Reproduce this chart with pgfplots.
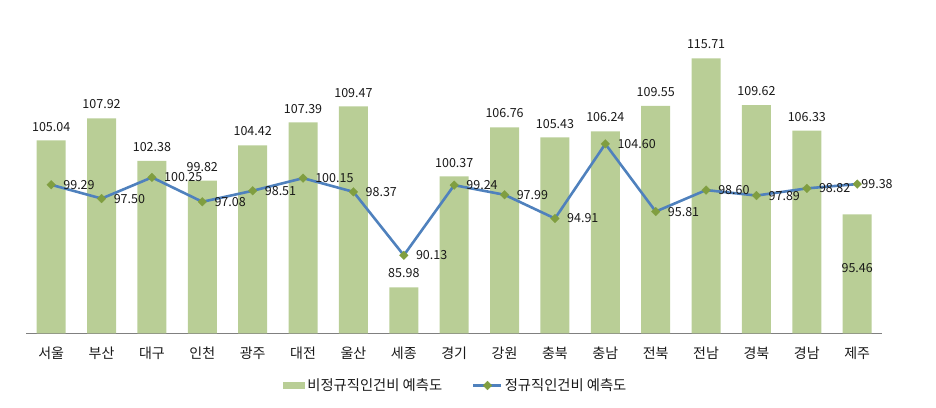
\documentclass[border=0pt]{standalone}
\usepackage{fontspec}
\setmainfont{Noto Sans CJK KR}
\usepackage{pgfplots}
\pgfplotsset{compat=1.18}
\definecolor{barG}{RGB}{185,206,150}
\definecolor{lineB}{RGB}{79,129,189}
\definecolor{markG}{RGB}{128,158,64}
\definecolor{txt}{RGB}{25,25,25}
\pgfplotstableread{
x bar line
0 105.04 99.29
1 107.92 97.50
2 102.38 100.25
3 99.82 97.08
4 104.42 98.51
5 107.39 100.15
6 109.47 98.37
7 85.98 90.13
8 100.37 99.24
9 106.76 97.99
10 105.43 94.91
11 106.24 104.60
12 109.55 95.81
13 115.71 98.60
14 109.62 97.89
15 106.33 98.82
16 95.46 99.38
}\data
\pgfplotstableread{
x bar line
0 105.04 99.29
1 107.92 97.50
2 102.38 100.25
3 99.82 97.08
4 104.42 98.51
5 107.39 100.15
6 109.47 98.37
7 85.98 90.13
8 100.37 99.24
9 106.76 97.99
10 105.43 94.91
11 106.24 104.60
12 109.55 95.81
13 115.71 98.60
14 109.62 97.89
15 106.33 98.82
}\lab
\begin{document}
\begin{tikzpicture}
\useasboundingbox (-26pt,-73.7pt) rectangle (910pt,333.3pt);
\begin{axis}[
  at={(0pt,0pt)}, anchor=south west,
  scale only axis, width=856.4pt, height=308pt,
  xmin=-0.5, xmax=16.5, ymin=80, ymax=120,
  clip=false,
  axis x line*=bottom, axis y line=none,
  x axis line style={draw=black!50, line width=0.9pt, -},
  xtick={0,...,16},
  xticklabels={서울,부산,대구,인천,광주,대전,울산,세종,경기,강원,충북,충남,전북,전남,경북,경남,제주},
  major tick length=0pt,
  xticklabel style={font=\fontsize{14}{14}\selectfont, text=txt, yshift=-10pt},
  /pgf/number format/assume math mode=true,
  legend style={at={(0.502,-0.1695)}, anchor=center, draw=none, fill=none,
    legend columns=2, font=\fontsize{14.3}{15}\selectfont, text=txt,
    /tikz/every even column/.append style={column sep=28pt},
    nodes={inner sep=2pt}},
]
\addplot[fill=barG, draw=none, ybar, bar width=0.576, bar shift=0pt,
  legend image code/.code={\fill[barG] (0pt,-3.5pt) rectangle (22pt,3.5pt);}]
  table[x=x, y=bar] {\data};
\addlegendentry{비정규직인건비 예측도}
\addplot[draw=none, mark=none, forget plot,
  nodes near coords={\pgfmathprintnumber[fixed,fixed zerofill,precision=2]{\pgfplotspointmeta}},
  every node near coord/.append style={font=\fontsize{12.5}{13}\selectfont, text=txt, anchor=south, inner sep=0pt, yshift=9pt}]
  table[x=x, y=bar] {\lab};
\addplot[lineB, line width=2.6pt, mark=square*, mark size=3.1pt,
  mark options={rotate=45, fill=markG, draw=markG, line width=0.2pt},
  legend image code/.code={\draw[mark repeat=2,mark phase=2] plot coordinates {(0pt,0pt) (14pt,0pt) (28pt,0pt)};}]
  table[x=x, y=line] {\data};
\addlegendentry{정규직인건비 예측도}
\addplot[draw=none, mark=none, forget plot,
  nodes near coords={\pgfmathprintnumber[fixed,fixed zerofill,precision=2]{\pgfplotspointmeta}},
  every node near coord/.append style={font=\fontsize{12.5}{13}\selectfont, text=txt, anchor=west, inner sep=0pt, xshift=12pt}]
  table[x=x, y=line] {\lab};
\node[font=\fontsize{12.5}{13}\selectfont, text=txt] at (axis cs:16,88.48) {95.46};
\node[font=\fontsize{12.5}{13}\selectfont, text=txt, anchor=west, inner sep=0pt, xshift=4pt] at (axis cs:16,99.38) {99.38};
\end{axis}
\end{tikzpicture}
\end{document}
